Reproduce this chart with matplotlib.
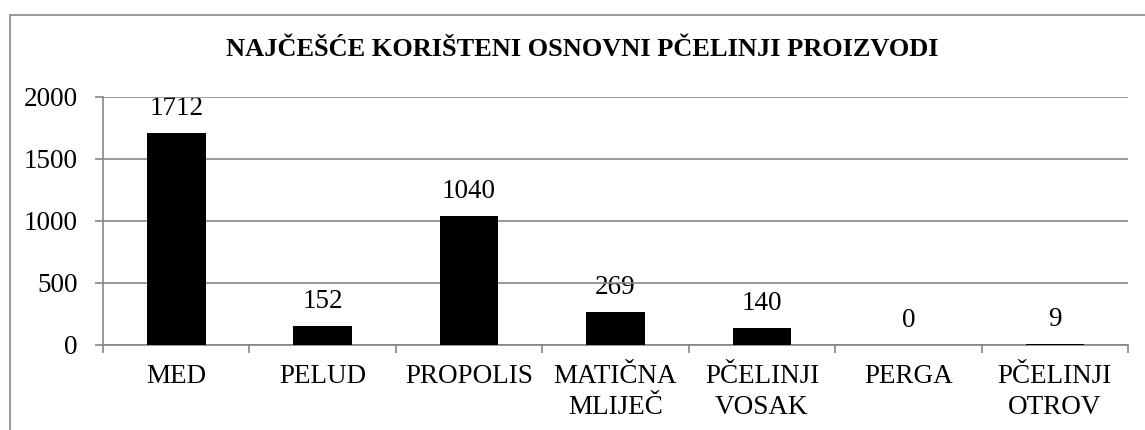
import matplotlib.pyplot as plt
from matplotlib.patches import Rectangle

categories = ['MED', 'PELUD', 'PROPOLIS', 'MATIČNA\nMLIJEČ', 'PČELINJI\nVOSAK', 'PERGA', 'PČELINJI\nOTROV']
values = [1712, 152, 1040, 269, 140, 0, 9]
y_ticks = [0, 500, 1000, 1500, 2000]
title = 'NAJČEŠĆE KORIŠTENI OSNOVNI PČELINJI PROIZVODI'

grey = '#868686'
plt.rcParams['font.family'] = ['Liberation Serif', 'DejaVu Serif']

fig = plt.figure(figsize=(11.45, 4.30), dpi=100)
ax = fig.add_axes([103 / 1145, 1 - 345 / 430, (1128 - 103) / 1145, (345 - 97) / 430])

# chart area border (runs off the right/bottom edge like the source)
fig.patches.append(Rectangle((10 / 1145, -0.1), 1.2, 1 - 15 / 430 + 0.1,
                             transform=fig.transFigure, fill=False,
                             edgecolor=grey, linewidth=1.2))

x = range(len(categories))
bars = ax.bar(x, values, width=0.4, color='black', zorder=3)
for xi, v in zip(x, values):
    ax.annotate(str(v), (xi, v), xytext=(0, 13), textcoords='offset points',
                ha='center', va='baseline', fontsize=19.5, zorder=0.5)

ax.set_xlim(-0.5, len(categories) - 0.5)
ax.set_ylim(0, 2000)
ax.set_yticks(y_ticks)
ax.set_yticklabels([str(t) for t in y_ticks], fontsize=19.5)
ax.yaxis.grid(True, color=grey, linewidth=1.2, zorder=1)
ax.set_axisbelow(True)

ax.set_xticks([i - 0.5 for i in range(len(categories) + 1)])
ax.set_xticklabels([])
ax.set_xticks(list(x), minor=True)
ax.set_xticklabels(categories, minor=True, fontsize=19.5, linespacing=1.3)
ax.tick_params(axis='x', which='minor', length=0, pad=14)
ax.tick_params(axis='x', which='major', length=6, color=grey, width=1.2)
ax.tick_params(axis='y', length=6, color=grey, width=1.2, pad=12)

for side in ['top', 'right']:
    ax.spines[side].set_visible(False)
for side in ['left', 'bottom']:
    ax.spines[side].set_color(grey)
    ax.spines[side].set_linewidth(1.2)

fig.text(582 / 1145, 1 - 50 / 430, title, ha='center', va='center',
         fontsize=19, fontweight='bold')

fig.savefig('out.png', dpi=100)
